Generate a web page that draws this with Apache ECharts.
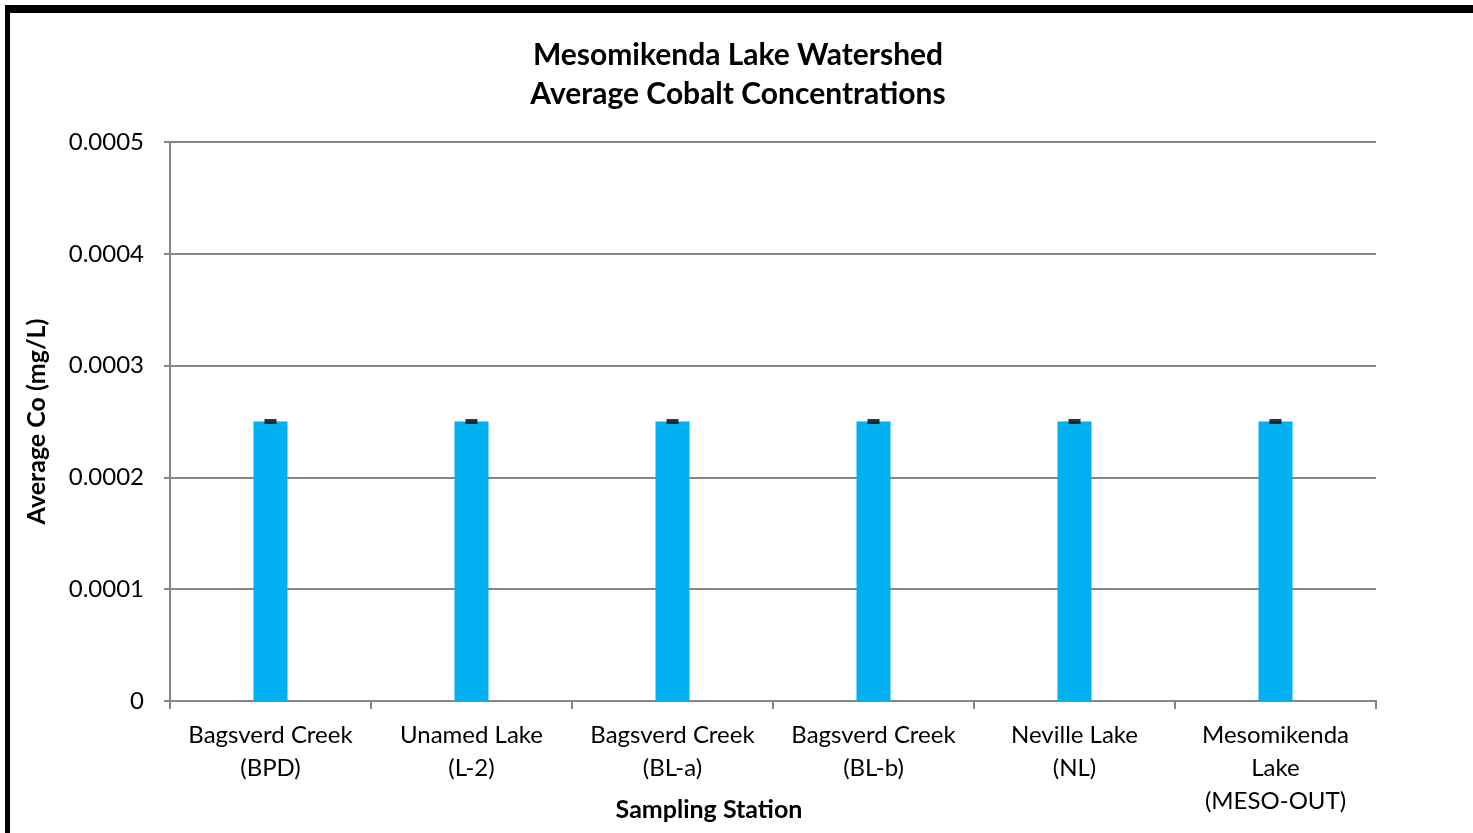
<!DOCTYPE html>
<html>
<head>
<meta charset="utf-8">
<script src="https://cdn.jsdelivr.net/npm/echarts@6/dist/echarts.min.js"></script>
<style>
html,body{margin:0;padding:0;background:#fff;}
#frame{position:absolute;left:5px;top:5px;width:1468px;height:828px;background:#000;}
#chart{position:absolute;left:10px;top:13px;width:1463px;height:820px;background:#fff;}
</style>
</head>
<body>
<div id="frame"></div>
<div id="chart"></div>
<script>
const categories = ['Bagsverd Creek\n(BPD)', 'Unamed Lake\n(L-2)', 'Bagsverd Creek\n(BL-a)', 'Bagsverd Creek\n(BL-b)', 'Neville Lake\n(NL)', 'Mesomikenda\nLake\n(MESO-OUT)'];
const avgCo = [0.00025, 0.00025, 0.00025, 0.00025, 0.00025, 0.00025];
const yTicks = [0, 0.0001, 0.0002, 0.0003, 0.0004, 0.0005];

const chart = echarts.init(document.getElementById('chart'));
const font = 'Lato, "Open Sans", sans-serif';
chart.setOption({
  animation: false,
  title: {
    text: 'Mesomikenda Lake Watershed\nAverage Cobalt Concentrations',
    left: 723, top: 18, textAlign: 'center',
    textStyle: {fontFamily: font, fontWeight: 'bold', fontSize: 30, lineHeight: 39, color: '#000'}
  },
  grid: {left: 160, right: 97, top: 129, bottom: 132, outerBoundsMode: 'none'},
  xAxis: {
    type: 'category', data: categories,
    name: 'Sampling Station', nameLocation: 'middle', nameGap: 96, nameMoveOverlap: false,
    nameTextStyle: {fontFamily: font, fontWeight: 'bold', fontSize: 25, color: '#000', padding: [0, 128, 0, 0]},
    axisLine: {lineStyle: {color: '#868686', width: 2}},
    axisTick: {show: true, alignWithLabel: false, length: 8, lineStyle: {color: '#868686', width: 2}},
    axisLabel: {fontFamily: font, fontSize: 24, color: '#000', lineHeight: 33, margin: 18, interval: 0}
  },
  yAxis: {
    type: 'value', min: 0, max: 0.0005, interval: 0.0001,
    name: 'Average Co (mg/L)', nameLocation: 'middle', nameGap: 121, nameRotate: 90, nameMoveOverlap: false,
    nameTextStyle: {fontFamily: font, fontWeight: 'bold', fontSize: 25, color: '#000'},
    axisLine: {show: true, lineStyle: {color: '#868686', width: 2}},
    axisTick: {show: true, length: 6, lineStyle: {color: '#868686', width: 2}},
    splitLine: {lineStyle: {color: '#868686', width: 2}},
    axisLabel: {fontFamily: font, fontSize: 24, color: '#000', margin: 26,
      formatter: v => { const t = yTicks.find(x => Math.abs(x - v) < 1e-12); return t === 0 ? '0' : String(+(t ?? v).toFixed(4)); }}
  },
  series: [
    {type: 'bar', data: avgCo, barWidth: 34, itemStyle: {color: '#00B0F0'}},
    {type: 'scatter', data: avgCo, symbol: 'rect', symbolSize: [12, 5], itemStyle: {color: '#000'}, z: 5}
  ]
});
</script>
</body>
</html>
